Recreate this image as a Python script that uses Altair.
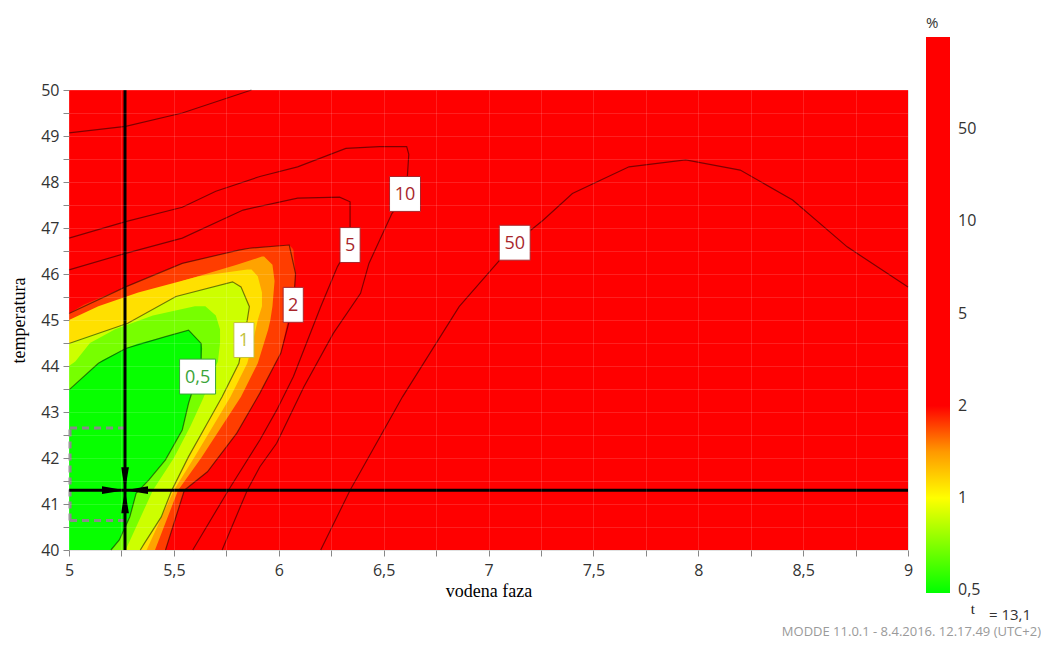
import altair as alt
import pandas as pd

# ---------------- data ----------------
x_domain = [5, 9]
y_domain = [40, 50]
x_ticks = [5, 5.25, 5.5, 5.75, 6, 6.25, 6.5, 6.75, 7, 7.25, 7.5, 7.75, 8, 8.25, 8.5, 8.75, 9]
y_ticks = [40, 40.5, 41, 41.5, 42, 42.5, 43, 43.5, 44, 44.5, 45, 45.5, 46, 46.5, 47, 47.5, 48, 48.5, 49, 49.5, 50]

# colour-bar positions (equal spacing) and their labels
bar_positions = [0, 1, 2, 3, 4, 5]
bar_labels = ["0,5", "1", "2", "5", "10", "50"]

# contour lines (x = vodena faza, y = temperatura)
c05_x = [5.0, 5.14, 5.27, 5.46, 5.57, 5.63, 5.63, 5.61, 5.57, 5.54, 5.46, 5.38, 5.32, 5.29, 5.24, 5.20]
c05_y = [43.48, 44.06, 44.38, 44.64, 44.78, 44.49, 44.13, 43.77, 43.19, 42.61, 41.96, 41.52, 41.23, 40.72, 40.22, 40.0]
c1_x = [5.0, 5.28, 5.51, 5.78, 5.82, 5.86, 5.85, 5.83, 5.81, 5.73, 5.65, 5.57, 5.49, 5.44, 5.36, 5.34]
c1_y = [44.49, 44.93, 45.51, 45.83, 45.72, 45.29, 45.0, 44.57, 44.06, 43.33, 42.68, 42.03, 41.3, 40.72, 40.15, 40.0]
c2_x = [5.0, 5.27, 5.54, 5.81, 5.86, 6.05, 6.08, 6.07, 6.01, 5.91, 5.80, 5.66, 5.55, 5.46]
c2_y = [45.14, 45.72, 46.23, 46.52, 46.56, 46.63, 46.01, 45.33, 44.28, 43.41, 42.54, 41.70, 41.30, 40.0]
c5_x = [5.0, 5.27, 5.54, 5.83, 6.09, 6.29, 6.34, 6.34, 6.34, 6.28, 6.20, 6.07, 5.99, 5.91, 5.76, 5.59]
c5_y = [46.09, 46.45, 46.78, 47.39, 47.65, 47.67, 47.57, 47.17, 46.63, 46.16, 45.29, 43.77, 43.04, 42.39, 41.30, 40.0]
c10_x = [5.0, 5.27, 5.54, 5.70, 5.91, 6.09, 6.32, 6.48, 6.61, 6.62, 6.61, 6.60, 6.54, 6.43, 6.39, 6.26, 6.12, 5.99, 5.91, 5.85, 5.73]
c10_y = [46.78, 47.14, 47.45, 47.80, 48.12, 48.33, 48.73, 48.77, 48.77, 48.60, 47.90, 47.65, 47.32, 46.23, 45.58, 44.71, 43.55, 42.32, 41.81, 41.30, 40.0]
c50_x = [6.20, 6.34, 6.59, 6.86, 7.12, 7.26, 7.40, 7.67, 7.94, 8.20, 8.45, 8.71, 9.0]
c50_y = [40.0, 41.30, 43.33, 45.29, 46.65, 47.17, 47.75, 48.33, 48.48, 48.26, 47.61, 46.59, 45.72]
c50b_x = [5.0, 5.27, 5.54, 5.87]
c50b_y = [49.07, 49.21, 49.50, 50.0]

# filled regions: for each temperature, the left and right edge of the region
bg_y = [40, 50]
bg_xl = [5, 5]
bg_xr = [9, 9]

b2_y = [40.0, 41.3, 41.7, 42.54, 43.41, 44.28, 45.14, 45.33, 45.72, 46.01, 46.23, 46.52, 46.56, 46.63]
b2_xl = [5.0, 5.0, 5.0, 5.0, 5.0, 5.0, 5.0, 5.07, 5.27, 5.42, 5.54, 5.81, 5.86, 6.05]
b2_xr = [5.46, 5.55, 5.66, 5.80, 5.91, 6.01, 6.05, 6.07, 6.075, 6.08, 6.075, 6.07, 6.065, 6.05]

b15_y = [40.0, 41.3, 42.0, 43.33, 44.06, 44.8, 45.0, 45.3, 45.85, 46.2, 46.38]
b15_xl = [5.0, 5.0, 5.0, 5.0, 5.0, 5.0, 5.1, 5.27, 5.54, 5.8, 5.92]
b15_xr = [5.41, 5.52, 5.63, 5.82, 5.90, 5.95, 5.96, 5.97, 5.98, 5.97, 5.93]

b12_y = [40.0, 41.3, 42.03, 43.33, 44.06, 44.6, 45.0, 45.3, 45.6, 45.95, 46.1]
b12_xl = [5.0, 5.0, 5.0, 5.0, 5.0, 5.0, 5.0, 5.14, 5.33, 5.62, 5.85]
b12_xr = [5.37, 5.50, 5.60, 5.77, 5.85, 5.88, 5.90, 5.92, 5.92, 5.90, 5.87]

b1_y = [40.0, 40.72, 41.3, 42.03, 42.68, 43.33, 44.06, 44.49, 44.57, 44.93, 45.0, 45.29, 45.51, 45.72, 45.83]
b1_xl = [5.0, 5.0, 5.0, 5.0, 5.0, 5.0, 5.0, 5.0, 5.04, 5.28, 5.31, 5.42, 5.51, 5.68, 5.78]
b1_xr = [5.34, 5.44, 5.49, 5.57, 5.65, 5.73, 5.81, 5.83, 5.83, 5.85, 5.85, 5.86, 5.84, 5.82, 5.78]

b075_y = [40.0, 41.3, 42.0, 42.7, 43.3, 44.0, 44.1, 44.5, 44.8, 45.1, 45.3]
b075_xl = [5.0, 5.0, 5.0, 5.0, 5.0, 5.0, 5.03, 5.1, 5.22, 5.4, 5.6]
b075_xr = [5.27, 5.40, 5.50, 5.58, 5.64, 5.70, 5.71, 5.72, 5.72, 5.70, 5.65]

b05_y = [40.0, 40.22, 40.72, 41.23, 41.52, 41.96, 42.61, 43.19, 43.48, 43.77, 44.06, 44.13, 44.38, 44.49, 44.64, 44.78]
b05_xl = [5.0, 5.0, 5.0, 5.0, 5.0, 5.0, 5.0, 5.0, 5.0, 5.07, 5.14, 5.16, 5.27, 5.33, 5.46, 5.57]
b05_xr = [5.20, 5.24, 5.29, 5.32, 5.38, 5.46, 5.54, 5.57, 5.59, 5.61, 5.63, 5.63, 5.635, 5.63, 5.60, 5.57]

# position of each region on the colour bar scale
band_levels = {"bg": 3.0, "b2": 1.8, "b15": 1.45, "b12": 1.15, "b1": 0.8, "b075": 0.45, "b05": 0.0}

# contour labels
lab_text = ["10", "5", "50", "2", "1", "0,5"]
lab_x = [6.602, 6.340, 7.125, 6.069, 5.834, 5.613]
lab_y = [47.74, 46.63, 46.68, 45.33, 44.565, 43.77]
lab_group = ["red", "red", "red", "red", "yellow", "green"]
lab_box = ["mid", "narrow", "mid", "narrow", "narrow", "wide"]

# cross-hair
cross_x = 5.267
cross_y = 41.30
dash_top = 42.65
dash_bottom = 40.64
dash_left = 5.005

# ---------------- styles ----------------
FONT = "Open Sans"
SERIF = "Liberation Serif"

group_colors = {"red": "#a8262b", "yellow": "#c2c23a", "green": "#3aa43a"}
box_paths = {"narrow": "M-0.56,-0.97L0.56,-0.97L0.56,0.97L-0.56,0.97Z",
             "mid": "M-0.86,-0.97L0.86,-0.97L0.86,0.97L-0.86,0.97Z",
             "wide": "M-1,-0.97L1,-0.97L1,0.97L-1,0.97Z"}

color_scale = alt.Scale(
    type="linear",
    domain=[-0.03, 1, 1.5, 2, 6],
    range=["#00ff00", "#ffff00", "#ff9900", "#ff0000", "#ff0000"],
    interpolate="rgb",
)
legend = alt.Legend(
    title="%",
    orient="none",
    legendX=857,
    legendY=-74,
    direction="vertical",
    gradientLength=556,
    gradientThickness=24,
    gradientStrokeWidth=0,
    values=bar_positions,
    labelExpr="[" + ",".join("'" + s + "'" for s in bar_labels) + "][datum.value]",
    labelFont=FONT,
    labelFontSize=16,
    labelFontWeight="normal",
    labelColor="#333333",
    labelOffset=8,
    titleFont=FONT,
    titleFontSize=15,
    titleFontWeight="normal",
    titleColor="#333333",
    titlePadding=6,
)

x_scale = alt.Scale(domain=x_domain, nice=False, zero=False)
y_scale = alt.Scale(domain=y_domain, nice=False, zero=False)

x_axis = alt.Axis(
    title="vodena faza",
    values=x_ticks,
    format=".2~f",
    labelExpr="datum.value % 0.5 == 0 ? replace(datum.label, '.', ',') : ''",
    labelFont=FONT, labelFontSize=16, labelColor="#333333", labelPadding=6,
    labelFlush=False,
    titleFont=SERIF, titleFontSize=18, titleFontWeight="normal", titleColor="#000000",
    titlePadding=4,
    tickColor="#888888", tickSize=6, domain=False,
    grid=True, gridColor="#ffffff", gridOpacity=0.13, zindex=1,
)
y_axis = alt.Axis(
    title="temperatura",
    values=y_ticks,
    format=".1~f",
    labelExpr="datum.value % 1 == 0 ? datum.label : ''",
    labelFont=FONT, labelFontSize=16, labelColor="#333333", labelPadding=4,
    labelFlush=False,
    titleFont=SERIF, titleFontSize=18, titleFontWeight="normal", titleColor="#000000",
    titlePadding=12,
    tickColor="#888888", tickSize=6, domain=False,
    grid=True, gridColor="#ffffff", gridOpacity=0.13, zindex=1,
)


def X(field):
    return alt.X(field, type="quantitative", scale=x_scale, axis=x_axis)


def Y(field):
    return alt.Y(field, type="quantitative", scale=y_scale, axis=y_axis)


# ---------------- filled regions ----------------
band_data = {
    "bg": (bg_y, bg_xl, bg_xr),
    "b2": (b2_y, b2_xl, b2_xr),
    "b15": (b15_y, b15_xl, b15_xr),
    "b12": (b12_y, b12_xl, b12_xr),
    "b1": (b1_y, b1_xl, b1_xr),
    "b075": (b075_y, b075_xl, b075_xr),
    "b05": (b05_y, b05_xl, b05_xr),
}
layers = []
for name, (ys, xls, xrs) in band_data.items():
    df = pd.DataFrame({"y": ys, "xl": xls, "xr": xrs, "lev": band_levels[name]})
    layers.append(
        alt.Chart(df)
        .mark_area(orient="horizontal", interpolate="linear", strokeWidth=0)
        .encode(
            y=Y("y"),
            x=X("xl"),
            x2="xr",
            color=alt.Color("lev:Q", scale=color_scale, legend=legend),
        )
    )

# ---------------- contour lines ----------------
rows = []
for name, xs, ys in [("c05", c05_x, c05_y), ("c1", c1_x, c1_y), ("c2", c2_x, c2_y),
                     ("c5", c5_x, c5_y), ("c10", c10_x, c10_y), ("c50", c50_x, c50_y),
                     ("c50b", c50b_x, c50b_y)]:
    for i, (xv, yv) in enumerate(zip(xs, ys)):
        rows.append({"name": name, "seq": i, "x": xv, "y": yv})
lines_df = pd.DataFrame(rows)
layers.append(
    alt.Chart(lines_df)
    .mark_line(color="#000000", opacity=0.5, strokeWidth=1.2)
    .encode(x=X("x"), y=Y("y"), detail="name:N", order="seq:Q")
)

# ---------------- dashed bracket ----------------
dash_h = pd.DataFrame({"y": [dash_top, dash_bottom], "x": [dash_left, dash_left], "x2": [cross_x, cross_x]})
dash_v = pd.DataFrame({"x": [dash_left], "y": [dash_bottom], "y2": [dash_top]})
layers.append(alt.Chart(dash_h).mark_rule(color="#8a8a8a", strokeWidth=3, strokeDash=[7, 5])
              .encode(x=X("x"), x2="x2", y=Y("y")))
layers.append(alt.Chart(dash_v).mark_rule(color="#8a8a8a", strokeWidth=3, strokeDash=[7, 5])
              .encode(x=X("x"), y=Y("y"), y2="y2"))

# ---------------- cross-hair ----------------
cross_v = pd.DataFrame({"x": [cross_x], "y": [y_domain[0]], "y2": [y_domain[1]]})
cross_h = pd.DataFrame({"y": [cross_y], "x": [x_domain[0]], "x2": [x_domain[1]]})
layers.append(alt.Chart(cross_v).mark_rule(color="#000000", strokeWidth=3)
              .encode(x=X("x"), y=Y("y"), y2="y2"))
layers.append(alt.Chart(cross_h).mark_rule(color="#000000", strokeWidth=3)
              .encode(y=Y("y"), x=X("x"), x2="x2"))

arrow_paths = ["M0,0L-1,-0.17L-1,0.17Z", "M0,0L1,-0.17L1,0.17Z",
               "M0,0L-0.17,-1L0.17,-1Z", "M0,0L-0.17,1L0.17,1Z"]
arrow_pt = pd.DataFrame({"x": [cross_x], "y": [cross_y]})
for path in arrow_paths:
    layers.append(
        alt.Chart(arrow_pt)
        .mark_point(shape=path, filled=True, color="#000000", opacity=1, size=2116, strokeWidth=0)
        .encode(x=X("x"), y=Y("y"))
    )

# ---------------- contour labels ----------------
for t, lx, ly, g, b in zip(lab_text, lab_x, lab_y, lab_group, lab_box):
    one_lab = pd.DataFrame({"t": [t], "x": [lx], "y": [ly]})
    layers.append(
        alt.Chart(one_lab)
        .mark_point(shape=box_paths[b], fill="#ffffff", fillOpacity=1, opacity=1,
                    stroke=group_colors[g], strokeWidth=1, size=1296)
        .encode(x=X("x"), y=Y("y"))
    )
    layers.append(
        alt.Chart(one_lab)
        .mark_text(font=FONT, fontSize=18, baseline="middle", align="center", dy=1,
                   color=group_colors[g])
        .encode(x=X("x"), y=Y("y"), text="t:N")
    )

# ---------------- footer texts ----------------
one = pd.DataFrame({"a": [0]})
layers.append(alt.Chart(one).mark_text(font=SERIF, fontSize=15, align="right", baseline="middle", color="#222222")
              .encode(x=alt.value(906), y=alt.value(519), text=alt.value("t")))
layers.append(alt.Chart(one).mark_text(font=FONT, fontSize=15, align="right", baseline="middle", color="#333333")
              .encode(x=alt.value(962), y=alt.value(525), text=alt.value("= 13,1")))
layers.append(alt.Chart(one).mark_text(font=FONT, fontSize=13, align="right", baseline="middle", color="#9a9a9a")
              .encode(x=alt.value(972), y=alt.value(542),
                      text=alt.value("MODDE 11.0.1 - 8.4.2016. 12.17.49 (UTC+2)")))

chart = (
    alt.layer(*layers)
    .properties(
        width=839,
        height=460,
        autosize=alt.AutoSizeParams(type="none"),
        padding={"left": 61, "top": 82, "right": 133, "bottom": 89},
    )
    .configure_view(stroke="#a0a0a0", strokeWidth=1)
    .configure_legend(labelFontWeight="normal", titleFontWeight="normal")
    .configure(background="#ffffff")
)

chart.save("out.html", embed_options={"renderer": "svg", "actions": False})
